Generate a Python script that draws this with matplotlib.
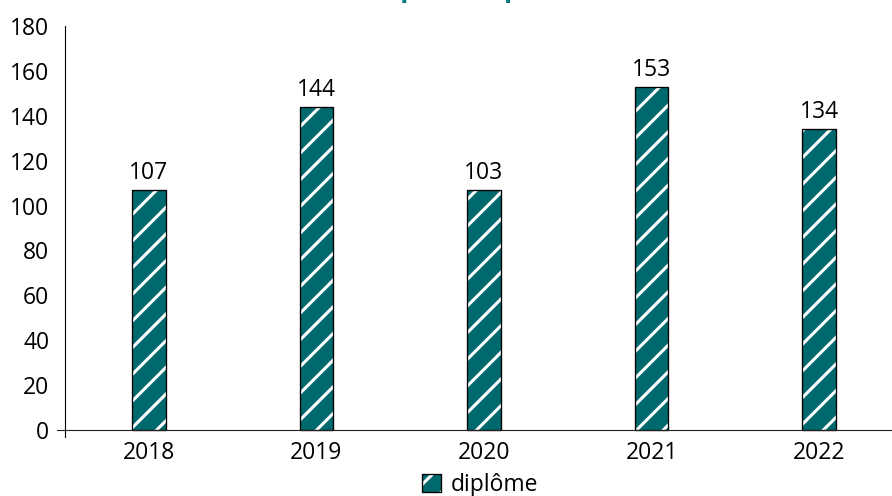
import matplotlib.pyplot as plt
from matplotlib.patches import Patch
from matplotlib.legend_handler import HandlerTuple

# données du graphique
annees = ["2018", "2019", "2020", "2021", "2022"]
diplomes = [107, 144, 107, 153, 134]
etiquettes = ["107", "144", "103", "153", "134"]
y_ticks = [0, 20, 40, 60, 80, 100, 120, 140, 160, 180]

teal = "#00696e"
plt.rcParams["font.family"] = ["Open Sans", "DejaVu Sans"]
plt.rcParams["hatch.linewidth"] = 1.4

# dpi élevé -> hachures plus espacées
fig = plt.figure(figsize=(892 / 160, 496 / 160), dpi=160)
ax = fig.add_axes([65 / 892, 59 / 496, 838 / 892, 411 / 496])

x = range(len(annees))
# fond hachuré blanc, puis contour noir
ax.bar(x, diplomes, width=0.2, color=teal, edgecolor="white", hatch="//", linewidth=0)
ax.bar(x, diplomes, width=0.2, fill=False, edgecolor="black", linewidth=0.6)

for i, (v, txt) in enumerate(zip(diplomes, etiquettes)):
    ax.text(i, v + 2.2, txt, ha="center", va="bottom", fontsize=10.3)

ax.set_xlim(-0.5, len(annees) - 0.5)
ax.set_ylim(-3.1, 180)
ax.set_yticks(y_ticks)
ax.set_xticks(list(x))
ax.set_xticklabels(annees)
ax.tick_params(axis="both", length=0, labelsize=10.3)
ax.tick_params(axis="y", pad=7)
ax.tick_params(axis="x", pad=2)

for s in ["top", "right", "bottom"]:
    ax.spines[s].set_visible(False)
ax.spines["left"].set_linewidth(0.5)
ax.axhline(0, xmin=-0.0095, xmax=1, color="#222222", linewidth=0.5, clip_on=False)

# titre (coupé en haut de l'image, comme sur l'original)
fig.text(0.575, 1.006, "Nombre de diplômés par année, 2018 à 2022", ha="center",
         va="baseline", fontsize=12, fontweight="bold", color="#00797f")

h = (Patch(facecolor=teal, edgecolor="white", hatch="//", linewidth=0),
     Patch(fill=False, edgecolor="black", linewidth=0.6))
fig.legend([h], ["diplôme"], handler_map={tuple: HandlerTuple(ndivide=1)},
           loc="center", bbox_to_anchor=(480 / 892, 1 - 485 / 496), frameon=False,
           fontsize=10.3, handlelength=0.85, handleheight=0.85, handletextpad=0.4,
           borderpad=0)

fig.savefig("out.png", dpi=160)
